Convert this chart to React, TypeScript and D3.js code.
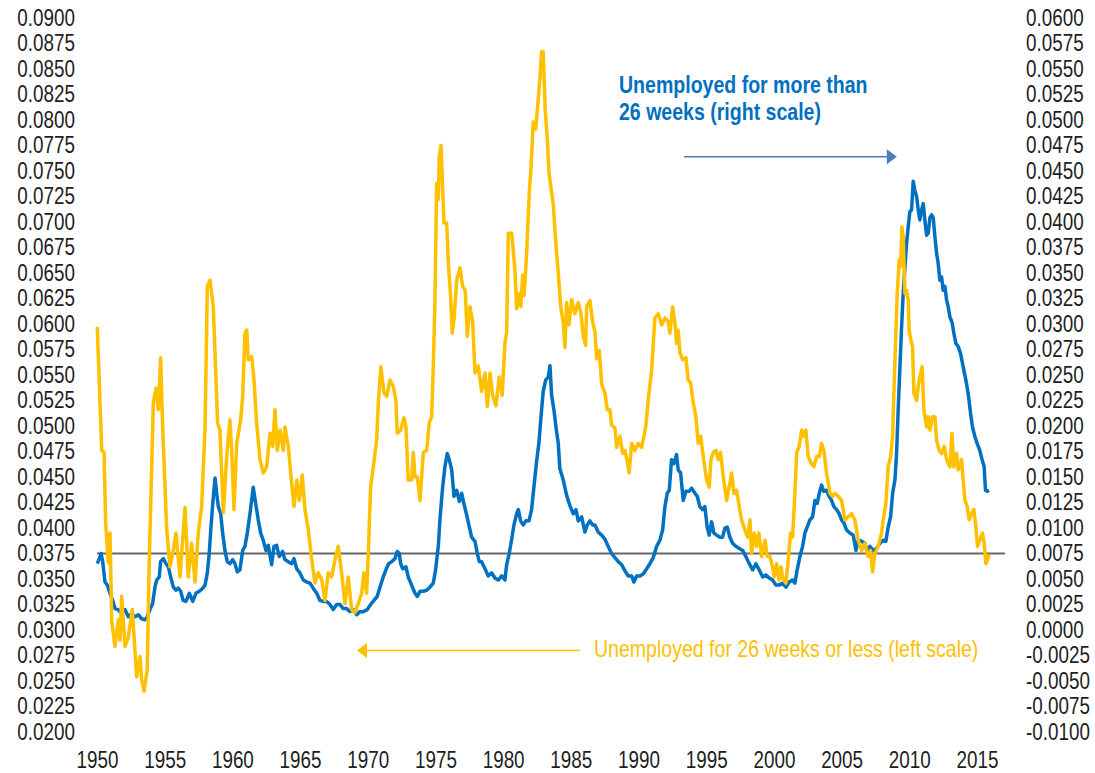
import React, { useEffect, useRef } from "react";
import * as d3 from "d3";

const width = 1095;
const height = 773;
const orange = "#ffc000";
const blue = "#0070c0";
const arrowBlue = "#4a7ebb";
const font = "'Liberation Sans', Arial, sans-serif";
const narrow = "scale(0.82,1)"; // no narrow face installed, squeeze Liberation Sans instead
const noteNarrow = "scale(0.85,1)";

const yearTicks = [1950, 1955, 1960, 1965, 1970, 1975, 1980, 1985, 1990, 1995, 2000, 2005, 2010, 2015];
const leftTicks = [
  0.02, 0.0225, 0.025, 0.0275, 0.03, 0.0325, 0.035, 0.0375, 0.04, 0.0425, 0.045, 0.0475, 0.05, 0.0525, 0.055,
  0.0575, 0.06, 0.0625, 0.065, 0.0675, 0.07, 0.0725, 0.075, 0.0775, 0.08, 0.0825, 0.085, 0.0875, 0.09
];
const rightTicks = [
  -0.01, -0.0075, -0.005, -0.0025, 0, 0.0025, 0.005, 0.0075, 0.01, 0.0125, 0.015, 0.0175, 0.02, 0.0225, 0.025,
  0.0275, 0.03, 0.0325, 0.035, 0.0375, 0.04, 0.0425, 0.045, 0.0475, 0.05, 0.0525, 0.055, 0.0575, 0.06
];
const referenceLevel = 0.0375; // left scale

// unemployed 26 weeks or less, left scale: [year, rate]
const shortTerm: [number, number][] = [
  [1950.02,.0597],[1950.35,.0476],[1950.52,.0474],[1950.64,.0405],[1950.83,.0366],[1950.96,.0395],[1951.09,.0308],[1951.33,.0284],[1951.57,.0310],[1951.70,.0290],[1951.82,.0333],[1952.07,.0284],[1952.31,.0293],[1952.61,.0320],[1952.93,.0254],[1953.18,.0274],[1953.30,.0251],[1953.47,.0240],[1953.71,.0261],[1953.86,.0369],[1953.99,.0434],[1954.16,.0523],[1954.36,.0537],[1954.53,.0516],[1954.70,.0567],[1954.85,.0499],[1955.15,.0398],[1955.39,.0362],[1955.64,.0378],[1955.83,.0395],[1956.13,.0352],[1956.50,.0420],[1956.74,.0352],[1956.99,.0385],[1957.24,.0347],[1957.48,.0395],[1957.73,.0421],[1957.98,.0499],[1958.15,.0637],[1958.35,.0643],[1958.59,.0617],[1958.91,.0503],[1959.08,.0496],[1959.33,.0415],[1959.58,.0470],[1959.82,.0506],[1959.95,.0476],[1960.12,.0418],[1960.32,.0483],[1960.61,.0506],[1960.76,.0529],[1960.93,.0591],[1961.06,.0594],[1961.17,.0565],[1961.43,.0568],[1961.60,.0545],[1961.79,.0503],[1962.04,.0467],[1962.28,.0454],[1962.53,.0460],[1962.78,.0493],[1962.98,.0480],[1963.15,.0516],[1963.32,.0476],[1963.52,.0496],[1963.76,.0476],[1963.88,.0499],[1964.13,.0480],[1964.38,.0444],[1964.55,.0421],[1964.75,.0447],[1964.94,.0427],[1965.16,.0452],[1965.36,.0418],[1965.61,.0398],[1965.86,.0369],[1966.10,.0346],[1966.34,.0356],[1966.60,.0349],[1966.84,.0329],[1967.08,.0356],[1967.33,.0352],[1967.58,.0369],[1967.82,.0382],[1968.07,.0356],[1968.32,.0326],[1968.56,.0352],[1968.81,.0320],[1969.05,.0317],[1969.30,.0326],[1969.55,.0336],[1969.72,.0356],[1969.92,.0336],[1970.04,.0375],[1970.21,.0440],[1970.41,.0460],[1970.66,.0486],[1970.78,.0523],[1970.97,.0558],[1971.20,.0532],[1971.40,.0529],[1971.64,.0545],[1971.88,.0539],[1972.08,.0525],[1972.18,.0493],[1972.43,.0496],[1972.67,.0508],[1972.82,.0499],[1972.99,.0447],[1973.24,.0447],[1973.36,.0474],[1973.49,.0450],[1973.66,.0450],[1973.86,.0427],[1974.10,.0474],[1974.35,.0476],[1974.54,.0503],[1974.72,.0509],[1974.84,.0558],[1974.96,.0621],[1975.09,.0738],[1975.21,.0722],[1975.28,.0764],[1975.41,.0775],[1975.50,.0744],[1975.63,.0699],[1975.83,.0699],[1975.95,.0660],[1976.12,.0627],[1976.24,.0591],[1976.39,.0607],[1976.57,.0643],[1976.81,.0655],[1977.01,.0637],[1977.20,.0633],[1977.35,.0588],[1977.55,.0617],[1977.75,.0602],[1977.92,.0552],[1978.16,.0559],[1978.41,.0534],[1978.66,.0552],[1978.83,.0519],[1979.03,.0552],[1979.22,.0530],[1979.47,.0520],[1979.71,.0548],[1979.93,.0530],[1980.13,.0581],[1980.26,.0592],[1980.38,.0689],[1980.63,.0689],[1980.87,.0653],[1981.00,.0615],[1981.19,.0630],[1981.31,.0617],[1981.44,.0648],[1981.56,.0628],[1981.74,.0671],[1981.93,.0729],[1982.05,.0751],[1982.22,.0798],[1982.40,.0791],[1982.59,.0820],[1982.72,.0841],[1982.84,.0867],[1982.96,.0867],[1983.11,.0809],[1983.26,.0783],[1983.38,.0749],[1983.58,.0729],[1983.70,.0718],[1983.90,.0678],[1984.07,.0650],[1984.25,.0617],[1984.44,.0602],[1984.56,.0577],[1984.69,.0621],[1984.86,.0599],[1985.06,.0624],[1985.30,.0610],[1985.55,.0621],[1985.75,.0610],[1985.92,.0588],[1986.09,.0579],[1986.17,.0617],[1986.41,.0623],[1986.61,.0602],[1986.78,.0592],[1986.91,.0566],[1987.10,.0574],[1987.28,.0541],[1987.52,.0532],[1987.69,.0516],[1987.89,.0516],[1988.01,.0501],[1988.26,.0498],[1988.38,.0479],[1988.63,.0490],[1988.83,.0473],[1989.00,.0476],[1989.17,.0465],[1989.31,.0454],[1989.49,.0483],[1989.73,.0476],[1989.98,.0483],[1990.23,.0479],[1990.40,.0490],[1990.55,.0501],[1990.72,.0526],[1990.97,.0555],[1991.21,.0606],[1991.46,.0610],[1991.71,.0599],[1991.95,.0606],[1992.20,.0602],[1992.32,.0591],[1992.52,.0617],[1992.69,.0601],[1992.81,.0581],[1992.93,.0594],[1993.06,.0572],[1993.26,.0565],[1993.50,.0567],[1993.67,.0545],[1993.85,.0542],[1994.04,.0523],[1994.24,.0509],[1994.41,.0483],[1994.59,.0490],[1994.78,.0470],[1995.03,.0447],[1995.22,.0440],[1995.35,.0467],[1995.52,.0474],[1995.72,.0476],[1995.89,.0467],[1996.06,.0474],[1996.26,.0450],[1996.51,.0427],[1996.70,.0440],[1996.88,.0454],[1997.05,.0434],[1997.24,.0437],[1997.44,.0421],[1997.61,.0408],[1997.86,.0398],[1998.06,.0391],[1998.23,.0408],[1998.35,.0375],[1998.55,.0395],[1998.72,.0382],[1998.89,.0395],[1999.09,.0372],[1999.34,.0388],[1999.51,.0372],[1999.70,.0372],[1999.90,.0362],[2000.02,.0352],[2000.20,.0365],[2000.37,.0349],[2000.52,.0362],[2000.69,.0349],[2000.89,.0346],[2001.06,.0369],[2001.23,.0395],[2001.38,.0391],[2001.55,.0434],[2001.68,.0474],[2001.87,.0480],[2002.05,.0496],[2002.22,.0490],[2002.36,.0496],[2002.53,.0470],[2002.78,.0463],[2002.95,.0460],[2003.15,.0470],[2003.35,.0470],[2003.52,.0483],[2003.69,.0476],[2003.89,.0454],[2004.14,.0434],[2004.34,.0431],[2004.51,.0434],[2004.75,.0431],[2005.00,.0427],[2005.24,.0408],[2005.49,.0411],[2005.74,.0414],[2005.98,.0408],[2006.23,.0388],[2006.48,.0378],[2006.72,.0385],[2006.96,.0372],[2007.14,.0378],[2007.29,.0357],[2007.46,.0375],[2007.70,.0382],[2007.95,.0395],[2008.07,.0408],[2008.27,.0424],[2008.44,.0460],[2008.62,.0470],[2008.77,.0490],[2008.94,.0565],[2009.11,.0630],[2009.25,.0663],[2009.36,.0656],[2009.45,.0695],[2009.55,.0686],[2009.68,.0630],[2009.80,.0633],[2009.92,.0624],[2009.99,.0594],[2010.12,.0584],[2010.24,.0578],[2010.34,.0532],[2010.54,.0525],[2010.66,.0539],[2010.78,.0548],[2010.95,.0558],[2011.08,.0516],[2011.28,.0499],[2011.40,.0509],[2011.52,.0496],[2011.72,.0509],[2011.89,.0509],[2012.02,.0486],[2012.21,.0476],[2012.39,.0473],[2012.58,.0480],[2012.76,.0467],[2013.00,.0460],[2013.15,.0493],[2013.29,.0460],[2013.49,.0473],[2013.61,.0457],[2013.86,.0467],[2013.98,.0447],[2014.11,.0427],[2014.28,.0421],[2014.42,.0408],[2014.60,.0414],[2014.77,.0418],[2014.92,.0401],[2015.04,.0382],[2015.21,.0388],[2015.41,.0395],[2015.53,.0385],[2015.66,.0365],[2015.78,.0369],[2015.90,.0374]
];

// unemployed more than 26 weeks, right scale: [year, rate]
const longTerm: [number, number][] = [
  [1950.02,.0065],[1950.17,.0070],[1950.30,.0075],[1950.42,.0067],[1950.59,.0047],[1950.76,.0044],[1950.96,.0036],[1951.16,.0029],[1951.33,.0021],[1951.57,.0020],[1951.82,.0016],[1952.07,.0020],[1952.31,.0013],[1952.56,.0016],[1952.81,.0013],[1953.05,.0015],[1953.30,.0011],[1953.55,.0010],[1953.71,.0013],[1953.91,.0020],[1954.11,.0026],[1954.28,.0042],[1954.41,.0049],[1954.60,.0052],[1954.70,.0067],[1954.90,.0070],[1955.10,.0065],[1955.27,.0062],[1955.44,.0052],[1955.64,.0042],[1955.83,.0039],[1956.00,.0041],[1956.18,.0038],[1956.37,.0029],[1956.57,.0028],[1956.82,.0036],[1957.07,.0028],[1957.31,.0036],[1957.56,.0038],[1957.81,.0041],[1957.98,.0044],[1958.15,.0056],[1958.29,.0075],[1958.42,.0101],[1958.55,.0124],[1958.72,.0149],[1958.84,.0134],[1958.96,.0121],[1959.14,.0114],[1959.28,.0095],[1959.45,.0078],[1959.62,.0067],[1959.82,.0065],[1960.02,.0069],[1960.19,.0065],[1960.36,.0057],[1960.56,.0059],[1960.76,.0078],[1960.93,.0082],[1961.10,.0095],[1961.30,.0114],[1961.54,.0140],[1961.72,.0124],[1961.91,.0108],[1962.09,.0095],[1962.28,.0088],[1962.48,.0078],[1962.65,.0083],[1962.90,.0064],[1963.07,.0082],[1963.27,.0083],[1963.46,.0072],[1963.71,.0077],[1963.88,.0069],[1964.13,.0067],[1964.38,.0065],[1964.55,.0070],[1964.75,.0060],[1964.99,.0056],[1965.24,.0049],[1965.49,.0047],[1965.73,.0046],[1965.97,.0041],[1966.23,.0036],[1966.47,.0029],[1966.71,.0028],[1966.96,.0028],[1967.21,.0025],[1967.45,.0020],[1967.70,.0025],[1967.95,.0025],[1968.19,.0021],[1968.44,.0021],[1968.69,.0018],[1968.93,.0020],[1969.18,.0015],[1969.42,.0018],[1969.67,.0018],[1969.96,.0020],[1970.21,.0025],[1970.46,.0029],[1970.70,.0033],[1970.95,.0044],[1971.14,.0052],[1971.34,.0059],[1971.54,.0065],[1971.77,.0067],[1972.01,.0070],[1972.18,.0077],[1972.33,.0075],[1972.43,.0065],[1972.58,.0060],[1972.82,.0062],[1972.99,.0052],[1973.24,.0044],[1973.49,.0036],[1973.66,.0033],[1973.86,.0038],[1974.10,.0038],[1974.35,.0039],[1974.59,.0042],[1974.84,.0046],[1975.01,.0059],[1975.21,.0082],[1975.33,.0108],[1975.53,.0140],[1975.70,.0160],[1975.87,.0173],[1976.02,.0167],[1976.20,.0157],[1976.37,.0131],[1976.57,.0137],[1976.76,.0126],[1976.94,.0134],[1977.10,.0124],[1977.30,.0113],[1977.50,.0101],[1977.67,.0091],[1977.92,.0087],[1978.09,.0075],[1978.24,.0067],[1978.41,.0067],[1978.66,.0060],[1978.90,.0053],[1979.15,.0056],[1979.39,.0051],[1979.64,.0049],[1979.89,.0053],[1980.13,.0049],[1980.26,.0064],[1980.45,.0075],[1980.63,.0089],[1980.80,.0103],[1981.00,.0114],[1981.12,.0118],[1981.29,.0107],[1981.48,.0103],[1981.68,.0107],[1981.91,.0107],[1982.10,.0118],[1982.27,.0140],[1982.47,.0165],[1982.64,.0183],[1982.79,.0208],[1982.96,.0234],[1983.14,.0245],[1983.33,.0248],[1983.46,.0259],[1983.58,.0230],[1983.75,.0216],[1983.95,.0194],[1984.07,.0183],[1984.19,.0158],[1984.44,.0147],[1984.69,.0132],[1984.93,.0122],[1985.18,.0114],[1985.38,.0118],[1985.55,.0107],[1985.80,.0111],[1986.04,.0096],[1986.21,.0103],[1986.41,.0107],[1986.61,.0103],[1986.78,.0103],[1987.02,.0096],[1987.28,.0093],[1987.52,.0089],[1987.76,.0082],[1988.01,.0075],[1988.26,.0071],[1988.50,.0067],[1988.75,.0064],[1989.00,.0058],[1989.24,.0053],[1989.49,.0053],[1989.66,.0047],[1989.86,.0053],[1990.10,.0053],[1990.35,.0055],[1990.60,.0060],[1990.84,.0065],[1991.09,.0071],[1991.34,.0082],[1991.58,.0088],[1991.78,.0098],[1991.95,.0121],[1992.12,.0134],[1992.27,.0137],[1992.44,.0167],[1992.61,.0163],[1992.81,.0172],[1992.93,.0157],[1993.11,.0154],[1993.30,.0127],[1993.50,.0136],[1993.74,.0136],[1993.92,.0139],[1994.17,.0134],[1994.34,.0131],[1994.53,.0121],[1994.73,.0118],[1994.90,.0121],[1995.07,.0101],[1995.22,.0093],[1995.40,.0106],[1995.57,.0095],[1995.77,.0093],[1996.01,.0091],[1996.21,.0091],[1996.38,.0100],[1996.55,.0101],[1996.75,.0091],[1996.95,.0085],[1997.19,.0082],[1997.44,.0080],[1997.69,.0078],[1997.93,.0072],[1998.18,.0065],[1998.43,.0059],[1998.67,.0065],[1998.91,.0059],[1999.17,.0052],[1999.41,.0054],[1999.65,.0051],[1999.90,.0049],[2000.15,.0044],[2000.39,.0044],[2000.64,.0046],[2000.89,.0042],[2001.13,.0047],[2001.38,.0049],[2001.55,.0046],[2001.72,.0059],[2001.92,.0072],[2002.12,.0082],[2002.29,.0095],[2002.46,.0101],[2002.66,.0108],[2002.86,.0111],[2003.03,.0127],[2003.20,.0124],[2003.35,.0134],[2003.52,.0142],[2003.69,.0136],[2003.89,.0137],[2004.08,.0131],[2004.26,.0127],[2004.43,.0121],[2004.63,.0118],[2004.82,.0114],[2005.00,.0108],[2005.17,.0105],[2005.37,.0098],[2005.61,.0095],[2005.86,.0093],[2006.06,.0078],[2006.23,.0088],[2006.48,.0087],[2006.72,.0085],[2006.89,.0077],[2007.09,.0082],[2007.33,.0078],[2007.58,.0080],[2007.83,.0085],[2008.07,.0088],[2008.27,.0087],[2008.44,.0101],[2008.62,.0111],[2008.77,.0134],[2008.94,.0147],[2009.06,.0173],[2009.18,.0216],[2009.31,.0258],[2009.43,.0297],[2009.55,.0330],[2009.68,.0356],[2009.80,.0379],[2009.92,.0395],[2010.04,.0410],[2010.17,.0412],[2010.29,.0440],[2010.41,.0431],[2010.54,.0425],[2010.66,.0412],[2010.78,.0402],[2010.91,.0412],[2011.03,.0418],[2011.15,.0402],[2011.28,.0387],[2011.40,.0389],[2011.52,.0404],[2011.65,.0407],[2011.77,.0404],[2011.89,.0386],[2012.02,.0369],[2012.13,.0360],[2012.26,.0343],[2012.39,.0346],[2012.50,.0333],[2012.63,.0337],[2012.75,.0324],[2012.87,.0317],[2013.00,.0307],[2013.17,.0301],[2013.29,.0291],[2013.44,.0281],[2013.61,.0278],[2013.79,.0271],[2013.98,.0258],[2014.18,.0245],[2014.35,.0232],[2014.53,.0212],[2014.67,.0199],[2014.84,.0190],[2015.01,.0183],[2015.21,.0176],[2015.38,.0167],[2015.53,.0160],[2015.63,.0137],[2015.75,.0136],[2015.90,.0137]
];

const xScale = d3.scaleLinear().domain([1950, 2017.07]).range([97, 1005]);
const yLeft = d3.scaleLinear().domain([0.02, 0.09]).range([732, 18]);
const yRight = d3.scaleLinear().domain([-0.01, 0.06]).range([732, 18]);

const fmt = d3
  .formatLocale({ decimal: ".", thousands: ",", grouping: [3], currency: ["", ""], minus: "-" })
  .format(".4f");

const shortLine = d3
  .line<[number, number]>()
  .x(d => xScale(d[0]))
  .y(d => yLeft(d[1]));
const longLine = d3
  .line<[number, number]>()
  .x(d => xScale(d[0]))
  .y(d => yRight(d[1]));

function styleAxis(g: any) {
  g.select(".domain").remove();
  g.selectAll("text")
    .attr("font-family", font)
    .attr("font-size", 23)
    .attr("fill", "#1e1e1e")
    .attr("transform", narrow);
}

export default function App() {
  const leftRef = useRef<SVGGElement>(null);
  const rightRef = useRef<SVGGElement>(null);
  const bottomRef = useRef<SVGGElement>(null);

  useEffect(() => {
    d3.select(leftRef.current)
      .call(d3.axisLeft(yLeft).tickValues(leftTicks).tickSize(0).tickPadding(0).tickFormat(fmt as any))
      .call(styleAxis);
    d3.select(rightRef.current)
      .call(d3.axisRight(yRight).tickValues(rightTicks).tickSize(0).tickPadding(0).tickFormat(fmt as any))
      .call(styleAxis);
    d3.select(bottomRef.current)
      .call(d3.axisBottom(xScale).tickValues(yearTicks).tickSize(0).tickPadding(0).tickFormat(d3.format("d") as any))
      .call(styleAxis);
  }, []);

  // annotation arrows, placed on the chart's own scales
  const bx0 = xScale(1993.35);
  const bx1 = xScale(2009.08);
  const by = yRight(0.0464);
  const ox0 = xScale(1985.67);
  const ox1 = xScale(1969.2);
  const oy = yLeft(0.028);

  return (
    <>
      <style>{`body{margin:0}`}</style>
      <svg width={width} height={height} style={{ display: "block", background: "#fff" }}>
        <line
          x1={xScale.range()[0]}
          x2={xScale.range()[1]}
          y1={yLeft(referenceLevel)}
          y2={yLeft(referenceLevel)}
          stroke="#666"
          strokeWidth={2}
        />
        <path d={longLine(longTerm) || ""} fill="none" stroke={blue} strokeWidth={3.5} strokeLinejoin="round" />
        <path d={shortLine(shortTerm) || ""} fill="none" stroke={orange} strokeWidth={3.5} strokeLinejoin="round" />

        <g ref={leftRef} transform="translate(75,0)" />
        <g ref={rightRef} transform="translate(1026,0)" />
        <g ref={bottomRef} transform="translate(0,752)" />

        <g fontFamily={font} fontSize={23}>
          <g transform={`translate(619,93) ${noteNarrow}`}>
            <text fill={blue} fontWeight="bold">Unemployed for more than</text>
            <text y={27} fill={blue} fontWeight="bold">26 weeks (right scale)</text>
          </g>
          <g transform={`translate(594,657) ${noteNarrow}`}>
            <text fill={orange}>Unemployed for 26 weeks or less (left scale)</text>
          </g>
        </g>

        <line x1={bx0} x2={bx1 - 8} y1={by} y2={by} stroke={arrowBlue} strokeWidth={1.5} />
        <path d={`M${bx1},${by} L${bx1 - 10},${by - 7.5} L${bx1 - 10},${by + 7.5} Z`} fill={arrowBlue} />
        <line x1={ox0} x2={ox1 + 8} y1={oy} y2={oy} stroke={orange} strokeWidth={1.5} />
        <path d={`M${ox1},${oy} L${ox1 + 10},${oy - 7.5} L${ox1 + 10},${oy + 7.5} Z`} fill={orange} />
      </svg>
    </>
  );
}
